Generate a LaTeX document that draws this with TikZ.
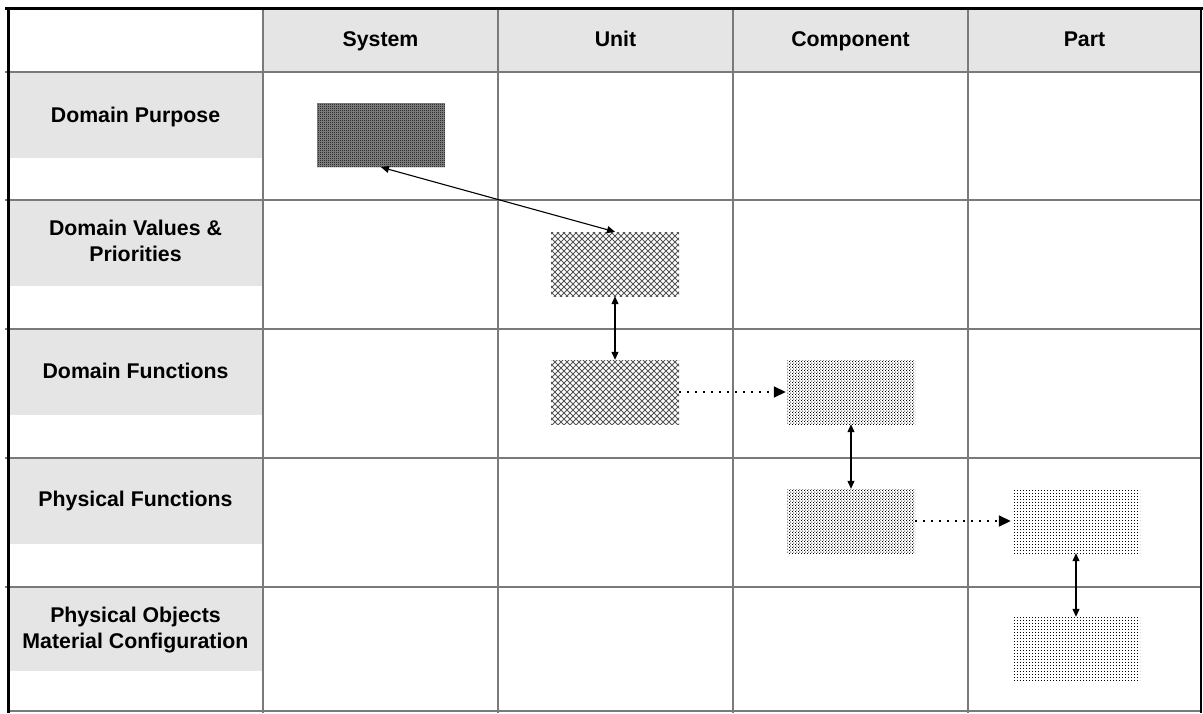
\documentclass[tikz,border=0pt]{standalone}
\usepackage{fontspec}
\setmainfont{Liberation Sans}
\usetikzlibrary{patterns,arrows.meta}

\definecolor{cellgray}{HTML}{E5E5E5}
\definecolor{rulegray}{HTML}{7A7A7A}
\definecolor{hatchgray}{HTML}{555555}

% fill patterns for the abstraction boxes
\pgfdeclarepatternformonly{finechecker}{\pgfqpoint{0pt}{0pt}}{\pgfqpoint{2pt}{2pt}}{\pgfqpoint{2pt}{2pt}}{%
  \pgfpathrectangle{\pgfqpoint{0pt}{0pt}}{\pgfqpoint{1.1pt}{1.1pt}}%
  \pgfpathrectangle{\pgfqpoint{1pt}{1pt}}{\pgfqpoint{1pt}{1pt}}%
  \pgfusepath{fill}}
\pgfdeclarepatternformonly{diamondhatch}{\pgfqpoint{-0.5pt}{-0.5pt}}{\pgfqpoint{6.6pt}{6.6pt}}{\pgfqpoint{6pt}{6pt}}{%
  \pgfsetlinewidth{0.75pt}%
  \pgfpathmoveto{\pgfqpoint{-0.1pt}{-0.1pt}}\pgfpathlineto{\pgfqpoint{6.1pt}{6.1pt}}%
  \pgfpathmoveto{\pgfqpoint{-0.1pt}{6.1pt}}\pgfpathlineto{\pgfqpoint{6.1pt}{-0.1pt}}%
  \pgfusepath{stroke}}
\pgfdeclarepatternformonly{densedots}{\pgfqpoint{0pt}{0pt}}{\pgfqpoint{2.8pt}{2.8pt}}{\pgfqpoint{2.8pt}{2.8pt}}{%
  \pgfpathrectangle{\pgfqpoint{0pt}{0pt}}{\pgfqpoint{1pt}{1pt}}%
  \pgfpathrectangle{\pgfqpoint{1.4pt}{1.4pt}}{\pgfqpoint{1pt}{1pt}}%
  \pgfusepath{fill}}
\pgfdeclarepatternformonly{sparsedots}{\pgfqpoint{0pt}{0pt}}{\pgfqpoint{3pt}{3pt}}{\pgfqpoint{3pt}{3pt}}{%
  \pgfpathrectangle{\pgfqpoint{0pt}{0pt}}{\pgfqpoint{1.1pt}{1.1pt}}%
  \pgfusepath{fill}}

\tikzset{
  label/.style={font=\fontsize{21.3}{26}\selectfont\bfseries, align=center, inner sep=0pt},
  absbox/.style={minimum width=128pt, minimum height=64pt, inner sep=0pt, draw=none},
  link/.style={line width=1.1pt, {Triangle[length=8pt,width=7pt]}-{Triangle[length=8pt,width=7pt]}},
  flow/.style={line width=1.6pt, dash pattern=on 1.6pt off 6.4pt, -{Triangle[length=12pt,width=11pt]}, shorten >=1pt},
  gridline/.style={rulegray, line width=1.5pt},
}

\begin{document}
\begin{tikzpicture}[x=1pt, y=-1pt]
\useasboundingbox (0,0) rectangle (1203,713);

% shaded header band and row label cells
\fill[cellgray] (263,8) rectangle (1201,72);
\foreach \top/\bot in {72/158, 200/286, 329/415, 458/544, 587/671}
  \fill[cellgray] (8,\top) rectangle (263,\bot);

% table rules
\foreach \yy in {72,200,329,458,587}
  \draw[gridline] (5,\yy) -- (1201,\yy);
\foreach \xx in {263,498,733,968}
  \draw[gridline] (\xx,8) -- (\xx,713);
\draw[gridline] (8,711) -- (1201,711);
\draw[black, line width=2pt] (1201,7) -- (1201,713);
\draw[black, line width=3pt] (5,8) -- (1203,8);
\draw[black, line width=3pt] (8,7) -- (8,713);

% column headings
\node[label, anchor=base] (hsys)  at (380.5,46) {System};
\node[label, anchor=base] (hunit) at (615.5,46) {Unit};
\node[label, anchor=base] (hcomp) at (850.5,46) {Component};
\node[label, anchor=base] (hpart) at (1084.5,46) {Part};

% row headings
\node[label, anchor=base] (rpurpose) at (135.5,122) {Domain Purpose};
\node[label] (rvalues)  at (135.5,241) {Domain Values \&\\Priorities};
\node[label, anchor=base] (rdomfun)  at (135.5,378) {Domain Functions};
\node[label, anchor=base] (rphysfun) at (135.5,506) {Physical Functions};
\node[label] (robjects) at (135.5,630) {Physical Objects\\Material Configuration};

% abstraction boxes
\node[absbox, preaction={fill=black!45}, pattern=finechecker, pattern color=black] (a) at (381,135) {};
\node[absbox, pattern=diamondhatch, pattern color=hatchgray] (b) at (615,264) {};
\node[absbox, pattern=diamondhatch, pattern color=hatchgray] (c) at (615,392) {};
\node[absbox, pattern=densedots, pattern color=black] (d) at (851,392) {};
\node[absbox, pattern=densedots, pattern color=black] (e) at (851,521) {};
\node[absbox, pattern=sparsedots, pattern color=black] (f) at (1076,521) {};
\node[absbox, pattern=sparsedots, pattern color=black] (g) at (1076,649) {};

% connections
\draw[link] (a.south) -- (b.north);
\draw[link] (b.south) -- (c.north);
\draw[flow] (c.east) -- (d.west);
\draw[link] (d.south) -- (e.north);
\draw[flow] (e.east) -- (f.west);
\draw[link] (f.south) -- (g.north);
\end{tikzpicture}
\end{document}
